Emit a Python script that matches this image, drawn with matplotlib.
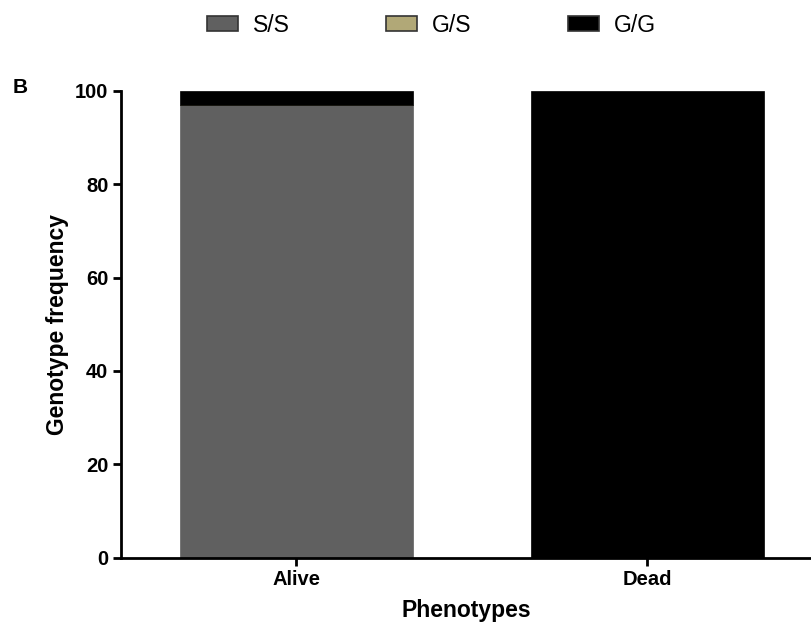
import numpy as np
import matplotlib.pyplot as plt

plt.rcParams['font.family'] = ['Liberation Sans', 'DejaVu Sans']

# Data
phenotypes = ['Alive', 'Dead']
genotypes = ['S/S', 'G/S', 'G/G']
ss_freq = [97.0, 0.0]
gs_freq = [0.0, 0.0]
gg_freq = [3.0, 100.0]
colors = ['#606060', '#b1a877', '#000000']

fig = plt.figure(figsize=(8.11, 6.26), dpi=100)
ax = fig.add_axes([0.149, 0.109, 0.851, 0.746])

x = np.arange(len(phenotypes))
width = 0.664
bottom = np.zeros(len(phenotypes))
handles = []
for name, vals, col in zip(genotypes, [ss_freq, gs_freq, gg_freq], colors):
    b = ax.bar(x, vals, width, bottom=bottom, color=col, label=name,
               edgecolor=col, linewidth=0.5)
    bottom += np.array(vals)
    handles.append(b)

ax.set_xlim(-0.5, 1.467)
ax.set_ylim(0, 100)
ax.set_yticks([0, 20, 40, 60, 80, 100])
ax.set_xticks(x)
ax.set_xticklabels(phenotypes)

ax.spines['top'].set_visible(False)
ax.spines['right'].set_visible(False)
ax.spines['left'].set_linewidth(2)
ax.spines['bottom'].set_linewidth(2)
ax.tick_params(axis='both', width=2, length=6, labelsize=14.5, pad=3)
for lab in ax.get_xticklabels() + ax.get_yticklabels():
    lab.set_fontweight('bold')

ax.set_xlabel('Phenotypes', fontsize=16.5, fontweight='bold', labelpad=7)
ax.set_ylabel('Genotype frequency', fontsize=16.5, fontweight='bold', labelpad=4)

fig.text(0.016, 0.852, 'B', fontsize=15, fontweight='bold')

leg = fig.legend(handles=handles, labels=genotypes, loc='center',
                 bbox_to_anchor=(0.532, 0.96), ncol=3, frameon=False,
                 fontsize=16.5, handlelength=1.35, handleheight=0.65,
                 handletextpad=0.65, columnspacing=4.2)
for p in leg.get_patches():
    p.set_edgecolor('#333333')
    p.set_linewidth(1.2)

fig.savefig('out.png', dpi=100)
